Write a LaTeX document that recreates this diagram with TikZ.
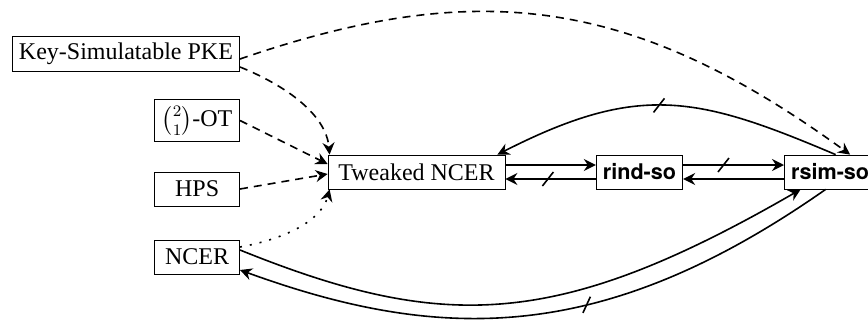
\documentclass[tikz,border=0pt]{standalone}
\usepackage{amsmath}
\usepackage{fontspec}
\setmainfont{Liberation Serif}
\newfontfamily\sofont[Scale=0.9]{TeX Gyre Heros}
\usetikzlibrary{arrows.meta,decorations.markings}

\begin{document}
\begin{tikzpicture}[x=0.5pt,y=0.5pt,
    box/.style={draw, line width=0.4pt, minimum height=17pt, minimum width=42.5pt,
      inner sep=3.33pt, font=\fontsize{12}{14}\selectfont},
    sobox/.style={box, font=\fontsize{12}{14}\selectfont\sofont\bfseries},
    link/.style={line width=0.8pt, -{Stealth[length=6pt,width=6pt,inset=2pt]}},
    reduction/.style={link, dash pattern=on 4pt off 3pt},
    weak/.style={link, dash pattern=on 1pt off 4pt},
    negated/.style={postaction={decorate, decoration={markings,
      mark=at position #1 with {\draw[-, line width=0.8pt] (-2.75pt,-3.5pt) -- (2.75pt,3.5pt);}}}}]

    \useasboundingbox (0,0) rectangle (868,323);
    \clip (0,0) rectangle (868,323);

    \node[box, anchor=east] (pke) at (240,269.5) {Key-Simulatable PKE};
    \node[box, anchor=east] (ot) at (240,202.5) {$\binom{2}{1}$-OT};
    \node[box, anchor=east] (hps) at (240,134) {HPS};
    \node[box, anchor=east] (ncer) at (240,66) {NCER};
    \node[box, minimum width=88.5pt] (tncer) at (416.5,151) {Tweaked NCER};
    \node[sobox] (rind) at (639.5,151) {rind-so};
    \node[sobox, anchor=west] (rsim) at (784,151) {rsim-so};

    \draw[reduction] ([yshift=-2.75pt]pke.east) .. controls +(19:250) and +(144:270) .. ([xshift=10pt]rsim.north);
    \draw[reduction] ([yshift=-6.75pt]pke.east) .. controls +(-22:50) and +(95:40) .. ([xshift=1pt]tncer.north west);
    \draw[reduction] (ot.east) -- ([yshift=4pt]tncer.west);
    \draw[reduction] (hps.east) -- ([yshift=-1pt]tncer.west);
    \draw[weak] ([yshift=5pt]ncer.east) .. controls +(10:40) and +(-105:35) .. ([xshift=1pt]tncer.south west);

    \draw[link] ([yshift=3.5pt]tncer.east) -- ([yshift=3.5pt]rind.west);
    \draw[link, negated=0.53] ([yshift=-3.5pt]rind.west) -- ([yshift=-3.5pt]tncer.east);
    \draw[link, negated=0.4] ([yshift=3.5pt]rind.east) -- ([yshift=3.5pt]rsim.west);
    \draw[link] ([yshift=-3.5pt]rsim.west) -- ([yshift=-3.5pt]rind.east);

    \draw[link, negated=0.52] ([xshift=2.75pt]rsim.north) .. controls +(157:150) and +(27:159) .. ([xshift=-4pt]tncer.north east);
    \draw[link] ([yshift=3.5pt]ncer.east) .. controls +(-22:220) and +(-150:280) .. ([xshift=-14.75pt]rsim.south);
    \draw[link, negated=0.43] ([xshift=-2.25pt]rsim.south) .. controls +(215:270) and +(-20:215) .. ([yshift=-6.5pt]ncer.east);

\end{tikzpicture}
\end{document}
